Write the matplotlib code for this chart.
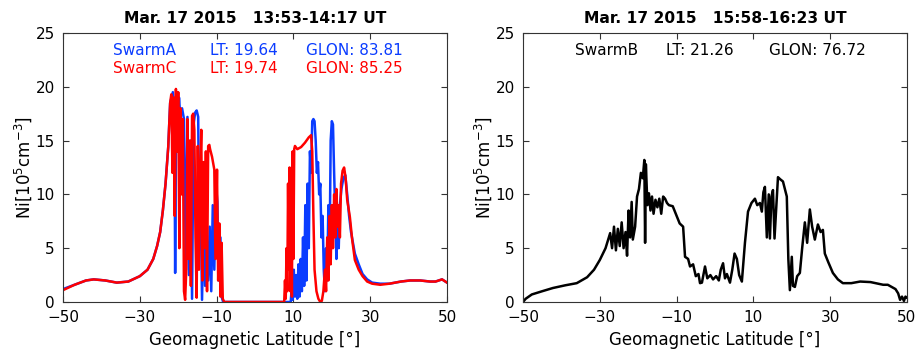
import matplotlib
matplotlib.use("Agg")
import matplotlib.pyplot as plt
import numpy as np

# ---- data ----
# SwarmA (blue), left panel
lat_a = [-50, -47, -44, -42, -39, -36, -33, -30, -28, -26.5, -25.5, -24.7, -24, -23.3, -22.6, -22.1,
         -21.4, -21.0, -20.8, -20.5, -20.2, -19.8, -19.5, -19.0, -18.5, -18.0, -17.6, -17.2, -16.8,
         -16.4, -16.0, -15.6, -15.2, -14.8, -14.5, -14.2, -13.8, -13.4, -13.0, -12.6, -12.2, -11.8,
         -11.4, -11.0, -10.6, -10.2, -9.8, -9.5, -9.0, -8.7, -8.3, 0, 9.3,
         9.5, 9.8, 10.1, 10.4, 10.7, 11.0, 11.3, 11.6, 11.9, 12.2, 12.5, 12.8, 13.1, 13.4, 13.7,
         14.0, 14.3, 14.6, 14.9, 15.2, 15.5, 15.8, 16.1, 16.4, 16.7, 17.0, 17.3, 17.6, 17.9, 18.2,
         18.5, 18.8, 19.1, 19.4, 19.7, 20.0, 20.3, 20.6, 20.9, 21.2, 21.5, 21.8, 22.1, 22.5, 23.0,
         23.5, 24.0, 24.5, 25.0, 26.0, 27.0, 28.0, 29.2, 30.5, 32.6, 35, 38, 40.4, 43, 45.6, 47,
         48.7, 50]
ni_a = [1.2, 1.6, 2.0, 2.1, 2.0, 1.8, 1.9, 2.4, 3.0, 4.0, 5.2, 6.5, 8.5, 11, 14.4, 18.5,
        19.5, 18, 2.7, 19.3, 15, 19.0, 17.5, 18, 17, 3.0, 17.2, 2.5, 15,
        0.3, 16.5, 17.6, 17.8, 17.2, 5, 10, 0.2, 8, 1.5, 6, 2.0, 7,
        1.0, 9, 3, 11, 9.3, 2, 6, 0.5, 0, 0, 0,
        1, 0.2, 3, 0.5, 2.5, 0.3, 3.5, 0.5, 4, 1, 6, 1.5, 9, 2, 11,
        5, 14, 12, 16.8, 17.0, 16.8, 15, 12, 13, 10, 11, 6, 8, 3, 1,
        5, 2, 9, 4, 15, 16.8, 16.5, 12, 8, 4, 8, 5, 9, 10.5, 11.5,
        11.8, 10, 8, 6.5, 4.5, 3.5, 2.6, 2.1, 1.8, 1.7, 1.7, 1.9, 2.0, 2.0, 1.9, 1.9,
        2.1, 1.8]

# SwarmC (red), left panel
lat_c = [-50, -47, -44, -42, -39, -36, -33, -30, -28, -26.5, -25.5, -24.7, -24, -23.3, -22.6, -22.1,
         -21.8, -21.5, -21.2, -20.9, -20.6, -20.3, -20.0, -19.7, -19.4, -19.1, -18.8, -18.5, -18.2,
         -17.9, -17.6, -17.3, -17.0, -16.7, -16.4, -16.1, -15.8, -15.5, -15.2, -14.9, -14.6, -14.3,
         -14.0, -13.7, -13.4, -13.1, -12.8, -12.5, -12.2, -11.9, -11.7, -11.2, -10.6, -10.3, -9.9,
         -9.6, -9.3, -9.0, -8.7, -8.4, -8.0, 0, 7.6,
         7.8, 8.0, 8.2, 8.4, 8.6, 8.8, 9.0, 9.2, 9.4, 9.6, 9.8, 10.0, 10.2, 10.4, 11.0, 11.5, 12.0,
         13.0, 14.0, 14.6, 14.9, 15.2, 15.5, 16.0, 16.5, 17.0, 17.4, 17.8, 18.2, 18.5, 18.8, 19.1,
         19.4, 19.7, 20.0, 20.3, 20.6, 20.9, 21.2, 21.5, 21.8, 22.1, 22.4, 22.8, 23.2, 23.6, 24.0,
         24.7, 25.3, 26.0, 27.0, 28.0, 29.2, 30.5, 32.6, 35, 38, 40.4, 43, 45.6, 47, 48.7, 50]
ni_c = [1.1, 1.6, 2.0, 2.1, 2.0, 1.8, 1.9, 2.4, 3.0, 4.0, 5.2, 6.5, 8.5, 11, 14.4, 18.5,
        19.3, 12, 19.0, 8, 19.8, 14, 19.5, 5, 18, 10, 17, 1, 0.2,
        3, 17, 4, 15, 1.5, 17.3, 17.5, 16, 6, 0.4, 14.5, 3, 12,
        16, 2, 13, 5, 14, 1, 14.5, 14.6, 14.2, 13.5, 12.3, 4, 12.3,
        2, 7.3, 0.5, 5.5, 0.3, 0, 0, 0,
        2, 0.3, 5, 1, 11, 3, 12.5, 1, 8, 0.5, 14, 4, 14.2, 14.5, 14.2, 14.3, 14.4,
        14.8, 15.3, 15.5, 14, 8, 3, 1, 0.3, 0, 0.1, 1.0, 3, 1, 6, 2,
        8, 3.5, 9, 5, 10, 6, 10.5, 7, 9, 6, 11, 12.2, 12.5, 11.5, 9.5,
        7.9, 5.8, 3.9, 3.0, 2.4, 1.9, 1.7, 1.6, 1.7, 1.9, 2.0, 2.0, 1.9, 1.9, 2.1, 1.8]

# SwarmB (black), right panel
lat_b = [-50, -49.3, -47.7, -45, -42.2, -39, -36, -33.3, -31.5, -30, -28.5, -27.3, -26.8, -26.3,
         -25.8, -25.3, -24.8, -24.3, -23.8, -23.3, -22.9, -22.5, -22.1, -21.7, -21.4, -20.8, -20.3,
         -19.8, -19.3, -18.8, -18.4, -18.2, -18.0, -17.6, -17.2, -16.8, -16.4, -16.0, -15.5, -15.0,
         -14.5, -14.0, -13.5, -13.0, -12.5, -12.0, -11.0, -10.0, -9.2, -8.3, -7.8, -7.0, -6.5, -5.7,
         -5.0, -4.3, -3.9, -3.4, -2.6, -2.0, -1.2, -0.5, 0.3, 1.0, 1.5, 2.1, 2.6, 3.1, 3.9, 4.5,
         5.1, 5.7, 6.3, 7.0, 7.8, 8.6, 9.5, 10.4, 11.0, 11.7, 12.2, 12.6, 13.0, 13.5, 14.0, 14.3,
         14.7, 15.1, 15.5, 15.9, 16.4, 17.0, 17.7, 18.7, 19.1, 19.5, 20.0, 20.3, 20.8, 21.4, 22.1,
         22.7, 23.4, 24.0, 24.7, 25.3, 26.0, 26.8, 27.5, 28.1, 28.6, 29.5, 30.7, 32, 33.3, 35.5,
         37.8, 40.5, 43.8, 45, 46, 47, 47.7, 48.2, 48.7, 49.2, 49.6, 50]
ni_b = [0.0, 0.3, 0.7, 1.0, 1.3, 1.55, 1.75, 2.3, 3.0, 3.9, 5.0, 6.4, 5.0, 7.0,
        4.8, 6.8, 5.2, 7.4, 5.0, 6.5, 4.3, 8.5, 6.0, 9.3, 5.8, 7.0, 9.8,
        10.5, 12.0, 11.5, 13.2, 5.5, 12.8, 9.0, 10.1, 8.5, 9.8, 8.2, 9.5, 8.8,
        9.6, 8.2, 9.8, 9.6, 9.2, 9.0, 8.9, 8.0, 7.3, 7.0, 4.2, 4.0, 3.3, 3.5,
        2.4, 2.6, 1.75, 1.8, 3.3, 2.2, 2.5, 2.1, 2.4, 2.0, 3.0, 3.6, 2.2, 2.6, 1.8, 3.0,
        4.5, 4.0, 2.5, 1.9, 5.5, 8.4, 9.2, 9.6, 9.0, 9.2, 8.4, 10.2, 10.7, 6.0, 10.0, 5.9,
        9.8, 10.4, 5.9, 8.5, 11.6, 11.4, 11.2, 9.8, 4.0, 1.1, 4.2, 1.5, 1.4, 2.4, 2.7,
        5.0, 7.4, 5.5, 8.6, 7.0, 5.8, 7.2, 6.5, 6.7, 4.5, 3.7, 2.7, 2.1, 1.75, 1.75,
        1.9, 1.85, 1.6, 1.6, 1.4, 1.2, 0.8, 0.2, 0.5, 0.1, 0.5, 0.4]

xticks = [-50, -30, -10, 10, 30, 50]
yticks = [0, 5, 10, 15, 20, 25]
titles = ["Mar. 17 2015   13:53-14:17 UT", "Mar. 17 2015   15:58-16:23 UT"]
rows_left = [("SwarmA", "LT: 19.64", "GLON: 83.81"), ("SwarmC", "LT: 19.74", "GLON: 85.25")]
row_right = ("SwarmB", "LT: 21.26", "GLON: 76.72")

BLUE = "#0a3cff"
RED = "#ff0000"

fig = plt.figure(figsize=(9.24, 3.49), dpi=100)
ax1 = fig.add_axes([0.0682, 0.1347, 0.4156, 0.7708])
ax2 = fig.add_axes([0.566, 0.1347, 0.4156, 0.7708])

ax1.plot(lat_a, ni_a, color=BLUE, lw=1.8)
ax1.plot(lat_c, ni_c, color=RED, lw=1.8)
ax2.plot(lat_b, ni_b, color="black", lw=1.8)

for ax, title in zip([ax1, ax2], titles):
    ax.set_xlim(-50, 50)
    ax.set_ylim(0, 25)
    ax.set_xticks(xticks)
    ax.set_yticks(yticks)
    ax.tick_params(direction="in", top=True, right=True, length=4, width=0.8,
                   labelsize=11, colors="#333333", labelcolor="black")
    ax.tick_params(axis="x", pad=6)
    ax.tick_params(axis="y", pad=6)
    for s in ax.spines.values():
        s.set_linewidth(0.8)
        s.set_color("#333333")
    ax.set_title(title, fontsize=11.2, fontweight="bold", pad=7)
    ax.set_xlabel("Geomagnetic Latitude [°]", fontsize=12, labelpad=4)
    ax.set_ylabel("Ni[10$^5$cm$^{-3}$]", fontsize=12, labelpad=1)

xs = [-37, -11.7, 13.3]
for (row, color, y) in [(rows_left[0], BLUE, 23.4), (rows_left[1], RED, 21.7)]:
    for x, s in zip(xs, row):
        ax1.text(x, y, s, color=color, fontsize=11, va="center", ha="left")

for x, s in zip([-36.4, -12.8, 14.1], row_right):
    ax2.text(x, 23.4, s, color="black", fontsize=11, va="center", ha="left")

fig.savefig("out.png", dpi=100)
